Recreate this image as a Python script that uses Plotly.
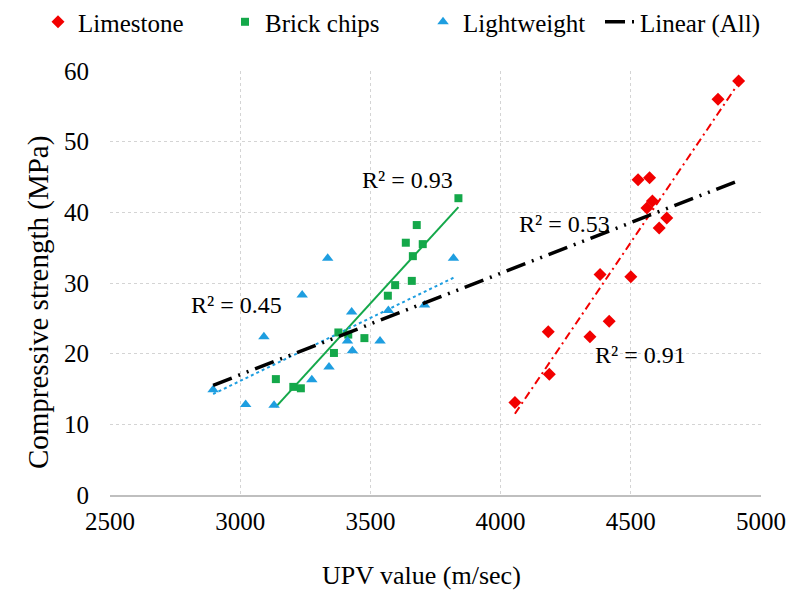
import numpy as np
import plotly.graph_objects as go

# ---- data ----
lime_x = [4055, 4183, 4187, 4343, 4417, 4382, 4500, 4528, 4572, 4583, 4562, 4609, 4638, 4835, 4914]
lime_y = [13.1, 23.1, 17.1, 22.4, 24.6, 31.2, 30.9, 44.6, 44.9, 41.6, 40.6, 37.8, 39.2, 56.0, 58.6]

brick_x = [3137, 3204, 3233, 3360, 3377, 3415, 3477, 3567, 3595, 3659, 3838, 3678, 3636, 3701, 3663]
brick_y = [16.4, 15.3, 15.1, 20.1, 23.0, 22.7, 22.2, 28.2, 29.7, 30.3, 42.0, 38.2, 35.7, 35.5, 33.8]

light_x = [2896, 3021, 3130, 3091, 3238, 3275, 3341, 3428, 3412, 3431, 3537, 3569, 3708, 3336, 3819]
light_y = [14.9, 12.8, 12.7, 22.4, 28.3, 16.3, 18.1, 25.9, 21.8, 20.4, 21.8, 26.1, 26.9, 33.5, 33.5]

r2_labels = ["R² = 0.91", "R² = 0.93", "R² = 0.45", "R² = 0.53"]
r2_x = [4539, 3643, 2986, 4247]
r2_y = [19.8, 44.6, 26.9, 38.3]

x_ticks = [2500, 3000, 3500, 4000, 4500, 5000]
y_ticks = [0, 10, 20, 30, 40, 50, 60]

RED = "#F20000"
GREEN = "#14A84A"
BLUE = "#1E9EE0"
FONT = "Liberation Serif"


def fit_line(xs, ys):
    xs = np.asarray(xs, float)
    ys = np.asarray(ys, float)
    m, b = np.polyfit(xs, ys, 1)
    x0, x1 = xs.min(), xs.max()
    return [x0, x1], [m * x0 + b, m * x1 + b]


fig = go.Figure()

# trend lines (behind markers)
lx, ly = fit_line(lime_x, lime_y)
fig.add_trace(go.Scatter(x=lx, y=ly, mode="lines", showlegend=False,
                         line=dict(color=RED, width=2, dash="8px,4px,2px,4px")))
bx, by = fit_line(brick_x, brick_y)
fig.add_trace(go.Scatter(x=bx, y=by, mode="lines", showlegend=False,
                         line=dict(color=GREEN, width=2)))
wx, wy = fit_line(light_x, light_y)
fig.add_trace(go.Scatter(x=wx, y=wy, mode="lines", showlegend=False,
                         line=dict(color=BLUE, width=2, dash="dot")))

# series markers
fig.add_trace(go.Scatter(x=lime_x, y=lime_y, mode="markers", name="Limestone",
                         legend="legend",
                         marker=dict(symbol="diamond", size=10, color=RED)))
fig.add_trace(go.Scatter(x=brick_x, y=brick_y, mode="markers", name="Brick chips",
                         legend="legend2",
                         marker=dict(symbol="square", size=8, color=GREEN)))
fig.add_trace(go.Scatter(x=light_x, y=light_y, mode="markers", name="Lightweight",
                         legend="legend3",
                         marker=dict(symbol="triangle-up", size=10, color=BLUE)))

ax_, ay_ = fit_line(lime_x + brick_x + light_x, lime_y + brick_y + light_y)
fig.add_trace(go.Scatter(x=ax_, y=ay_, mode="lines", name="Linear (All)",
                         legend="legend4",
                         line=dict(color="black", width=3.5,
                                   dash="20px,7px,2px,7px,2px,7px")))

for t, x, y in zip(r2_labels, r2_x, r2_y):
    fig.add_annotation(x=x, y=y, text=t, showarrow=False,
                       font=dict(family=FONT, size=24, color="black"))

# axis titles (placed as in the reference)
fig.add_annotation(xref="paper", yref="paper", x=0.479, y=-0.191,
                   text="UPV value (m/sec)", showarrow=False,
                   xanchor="center", yanchor="middle",
                   font=dict(family=FONT, size=26, color="black"))
fig.add_annotation(xref="paper", yref="paper", x=-0.1106, y=0.455,
                   text="Compressive strength (MPa)", showarrow=False, textangle=-90,
                   xanchor="center", yanchor="middle",
                   font=dict(family=FONT, size=29, color="black"))


def leg(x):
    return dict(orientation="h", xref="container", x=x, xanchor="left",
                yref="container", y=0.976, yanchor="middle",
                font=dict(family=FONT, size=25, color="black"),
                bgcolor="rgba(0,0,0,0)", itemwidth=30)


fig.update_layout(
    width=794, height=585,
    margin=dict(l=102, r=41, t=63, b=98, autoexpand=False),
    paper_bgcolor="white", plot_bgcolor="white",
    font=dict(family=FONT, size=25, color="black"),
    showlegend=True,
    legend=leg(0.0378), legend2=leg(0.2733), legend3=leg(0.5227), legend4=leg(0.7456),
    xaxis=dict(range=[2500, 5000], tickvals=x_ticks, ticktext=[str(v) for v in x_ticks],
               showgrid=True, gridcolor="#d4d4d4", griddash="dot", gridwidth=1,
               zeroline=False, showline=True, linecolor="#bfbfbf", linewidth=1.5,
               ticks="", ticklabelstandoff=3),
    yaxis=dict(range=[0, 60], tickvals=y_ticks, ticktext=[str(v) for v in y_ticks],
               showgrid=True, gridcolor="#d4d4d4", griddash="dot", gridwidth=1,
               zeroline=False, showline=False, ticks="", ticklabelstandoff=20),
)

fig.write_html("out.html")
